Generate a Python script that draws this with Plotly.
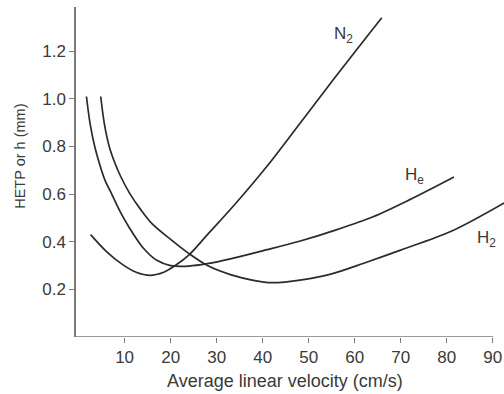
import plotly.graph_objects as go

# ---- data ----
n2_x = [2.6, 6.0, 9.5, 12.5, 15.5, 18.5, 21.0, 24.0, 28.0, 33.6, 40.9, 48.1, 55.3, 62.6, 65.9]
n2_y = [0.43, 0.36, 0.305, 0.272, 0.259, 0.272, 0.30, 0.345, 0.43, 0.549, 0.716, 0.897, 1.079, 1.26, 1.341]

he_x = [1.7, 2.5, 3.5, 4.5, 5.7, 7.2, 9.0, 11.0, 14.0, 17.0, 20.0, 24.0, 28.0, 33.0, 40.0, 48.0, 56.0, 64.0, 72.0, 81.6]
he_y = [1.01, 0.895, 0.80, 0.73, 0.66, 0.60, 0.528, 0.46, 0.375, 0.322, 0.30, 0.298, 0.308, 0.328, 0.362, 0.402, 0.45, 0.505, 0.577, 0.672]

h2_x = [4.8, 5.6, 6.65, 7.8, 9.2, 11.2, 13.5, 16.0, 20.0, 24.0, 28.0, 33.0, 38.0, 42.0, 48.5, 55.0, 62.0, 70.0, 81.0, 92.5]
h2_y = [1.01, 0.895, 0.80, 0.735, 0.672, 0.60, 0.535, 0.475, 0.41, 0.35, 0.30, 0.262, 0.238, 0.228, 0.24, 0.265, 0.31, 0.365, 0.444, 0.563]

x_ticks = [10, 20, 30, 40, 50, 60, 70, 80, 90]
y_ticks = [0.2, 0.4, 0.6, 0.8, 1.0, 1.2]
y_tick_text = ["0.2", "0.4", "0.6", "0.8", "1.0", "1.2"]

labels = ["N<sub>2</sub>", "H<sub>e</sub>", "H<sub>2</sub>"]
label_x = [57.5, 73.1, 88.7]
label_y = [1.27, 0.678, 0.41]

x_title = "Average linear velocity (cm/s)"
y_title = "HETP or h (mm)"

FONT = "Liberation Sans, Arial, sans-serif"
LINE_COLOR = "#2b2b2b"
AXIS_COLOR = "#7a7a7a"
TEXT_COLOR = "#3a3a3a"

fig = go.Figure()
for xs, ys in [(n2_x, n2_y), (he_x, he_y), (h2_x, h2_y)]:
    fig.add_trace(go.Scatter(
        x=xs, y=ys, mode="lines",
        line=dict(color=LINE_COLOR, width=1.7, shape="spline", smoothing=0.9),
        showlegend=False, hoverinfo="skip",
    ))

for t, lx, ly in zip(labels, label_x, label_y):
    fig.add_annotation(x=lx, y=ly, xref="x", yref="y", text=t, showarrow=False,
                       font=dict(family=FONT, size=17, color=TEXT_COLOR),
                       xanchor="center", yanchor="middle")

# x axis line (stops at 90 like the reference)
fig.add_shape(type="line", xref="x", yref="y", x0=-0.57, x1=90.1, y0=0, y1=0,
              line=dict(color=AXIS_COLOR, width=1.5))

# axis titles
fig.add_annotation(x=(285 - 76) / 428, xref="paper", y=-(381.5 - 337.5) / 330.5, yref="paper",
                   text=x_title, showarrow=False, xanchor="center", yanchor="middle",
                   font=dict(family=FONT, size=18, color=TEXT_COLOR))
fig.add_annotation(x=-(76 - 20) / 428, xref="paper", y=(337.5 - 157) / 330.5, yref="paper",
                   text=y_title, showarrow=False, textangle=-90,
                   xanchor="center", yanchor="middle",
                   font=dict(family=FONT, size=14.5, color=TEXT_COLOR))

fig.update_layout(
    width=504, height=394,
    margin=dict(l=76, r=0, t=7, b=56.5),
    paper_bgcolor="white", plot_bgcolor="white",
    font=dict(family=FONT, size=17, color=TEXT_COLOR),
    xaxis=dict(range=[-0.57, 92.47], showgrid=False, zeroline=False, showline=False,
               tickmode="array", tickvals=x_ticks, ticks="outside", ticklen=5,
               tickwidth=1.3, tickcolor=AXIS_COLOR,
               tickfont=dict(family=FONT, size=17, color=TEXT_COLOR)),
    yaxis=dict(range=[0, 1.386], showgrid=False, zeroline=False, showline=True,
               linecolor=AXIS_COLOR, linewidth=1.5,
               tickmode="array", tickvals=y_ticks, ticktext=y_tick_text,
               ticks="outside", ticklen=5, tickwidth=1.3, tickcolor=AXIS_COLOR,
               tickfont=dict(family=FONT, size=17, color=TEXT_COLOR)),
)

fig.write_html("out.html")
